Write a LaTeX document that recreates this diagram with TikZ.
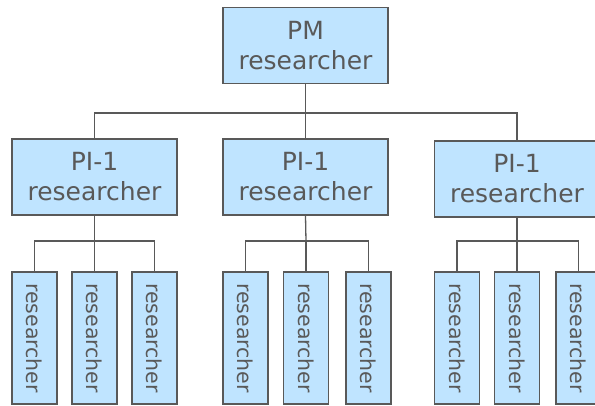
\documentclass[tikz,border=0pt]{standalone}
\usepackage{fontspec}
\setmainfont{DejaVu Sans}
\definecolor{boxfill}{RGB}{191,228,255}
\definecolor{ink}{RGB}{89,89,89}
\begin{document}
\begin{tikzpicture}[x=1pt,y=-1pt,
  box/.style={draw=ink, fill=boxfill, line width=1.3pt, text=ink, inner sep=0pt},
  lead/.style={box, minimum width=165pt, minimum height=76pt, align=center,
    font=\fontsize{25}{30}\selectfont},
  member/.style={box, minimum width=45pt, minimum height=132pt,
    font=\fontsize{20.5}{24}\selectfont},
  link/.style={draw=ink, line width=1.3pt}]
\useasboundingbox (0,0) rectangle (595,405);

% top level
\node[lead] (pm) at (305.5,45.5) {PM\\researcher};

% second level
\node[lead] (pi1) at (94.5,177) {PI-1\\researcher};
\node[lead] (pi2) at (305.5,177) {PI-1\\researcher};
\node[lead] (pi3) at (517,179) {PI-1\\researcher};

% third level
\foreach \g/\xa/\xb/\xc in {1/34.5/94.5/154.5, 2/245.5/306/368.5, 3/457/517/578.5}{
  \node[member] (r\g1) at (\xa,338) {\rotatebox{-90}{researcher}};
  \node[member] (r\g2) at (\xb,338) {\rotatebox{-90}{researcher}};
  \node[member] (r\g3) at (\xc,338) {\rotatebox{-90}{researcher}};
}

% connectors
\coordinate (bus) at (305.5,113);
\draw[link] (pm.south) -- (bus);
\draw[link] (pi1.north) |- (bus) -| (pi3.north);
\draw[link] (bus) -- (pi2.north);

\coordinate (b1) at (94.5,241);
\coordinate (b2) at (306,241);
\coordinate (b3) at (517,241);
\foreach \g in {1,2,3}{
  \draw[link] (pi\g.south) -- (b\g);
  \draw[link] (r\g1.north) |- (b\g) -| (r\g3.north);
  \draw[link] (b\g) -- (r\g2.north);
}
\end{tikzpicture}
\end{document}
